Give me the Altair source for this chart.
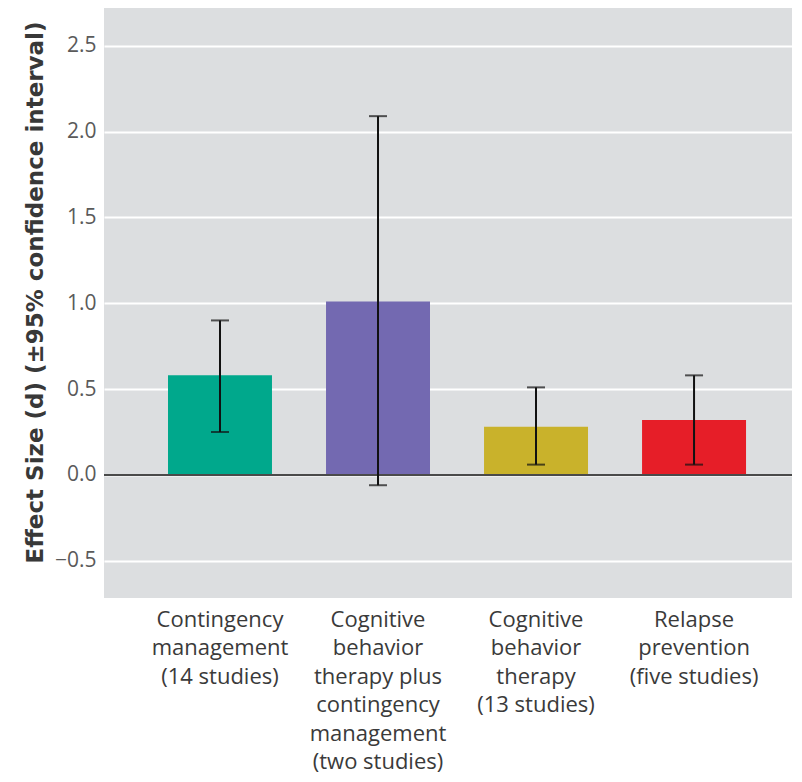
import altair as alt
import pandas as pd

categories = [
    "Contingency|management|(14 studies)",
    "Cognitive|behavior|therapy plus|contingency|management|(two studies)",
    "Cognitive|behavior|therapy|(13 studies)",
    "Relapse|prevention|(five studies)",
]
effect = [0.58, 1.01, 0.28, 0.32]
ci_low = [0.25, -0.06, 0.06, 0.06]
ci_high = [0.90, 2.09, 0.51, 0.58]
colors = ["#00A88C", "#7369B1", "#C9B22B", "#E61E28"]
y_ticks = [-0.5, 0.0, 0.5, 1.0, 1.5, 2.0, 2.5]

df = pd.DataFrame({"cat": categories, "d": effect, "lo": ci_low, "hi": ci_high})

FONT = "Open Sans"

x = alt.X(
    "cat:N",
    sort=categories,
    scale=alt.Scale(paddingInner=0.342, paddingOuter=0.348, align=0.582),
    axis=alt.Axis(
        title=None,
        labelExpr="split(datum.label, '|')",
        labelAngle=0,
        labelFont=FONT,
        labelFontSize=22,
        labelColor="#3A3A3A",
        labelLineHeight=28.5,
        labelPadding=11,
        labelBaseline="top",
        ticks=False,
        domain=False,
    ),
)

yscale = alt.Scale(domain=[-0.717, 2.72], nice=False, zero=False)

bars = alt.Chart(df).mark_bar().encode(
    x=x,
    y=alt.Y(
        "d:Q",
        scale=yscale,
        axis=alt.Axis(
            title="Effect Size (d) (±95% confidence interval)",
            values=y_ticks,
            format=".1f",
            labelFont=FONT,
            labelFontSize=21,
            labelColor="#5A5A5A",
            labelPadding=8,
            titleFont="DejaVu Sans",
            titleFontSize=23,
            titleFontWeight="bold",
            titleColor="#383838",
            titlePadding=7,
            titleY=284,
            ticks=False,
            domain=False,
            grid=True,
            gridColor="#FFFFFF",
            gridWidth=2,
        ),
    ),
    color=alt.Color("cat:N", scale=alt.Scale(domain=categories, range=colors), legend=None),
)

zero = alt.Chart(df).mark_rule(color="#4A4A4A", strokeWidth=2).encode(y=alt.datum(0))

err = alt.Chart(df).mark_rule(color="#111111", strokeWidth=2).encode(
    x=alt.X("cat:N", sort=categories), y="lo:Q", y2="hi:Q"
)
cap_hi = alt.Chart(df).mark_tick(color="#111111", size=18, thickness=2).encode(
    x=alt.X("cat:N", sort=categories), y="hi:Q"
)
cap_lo = alt.Chart(df).mark_tick(color="#111111", size=18, thickness=2).encode(
    x=alt.X("cat:N", sort=categories), y="lo:Q"
)

chart = (
    alt.layer(bars, zero, err, cap_hi, cap_lo)
    .properties(width=688, height=590, padding={"left": 16, "top": 0, "right": 0, "bottom": 0})
    .configure_view(fill="#DCDEE0", stroke=None)
)

chart.save("out.html", embed_options={"renderer": "svg", "actions": False})
